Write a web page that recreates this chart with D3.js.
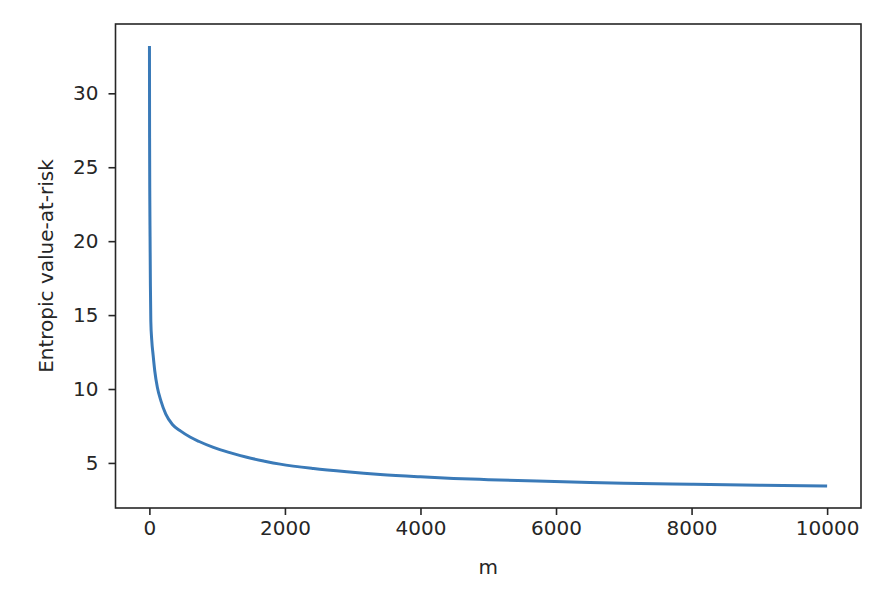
<!DOCTYPE html>
<html>
<head>
<meta charset="utf-8">
<script src="https://cdn.jsdelivr.net/npm/d3@7"></script>
<style>
  body { margin: 0; background: #fff; }
  .tick text { font-family: "DejaVu Sans", sans-serif; font-size: 20px; fill: #262626; }
  .tick line { stroke: #262626; stroke-width: 1.6; }
  .line { fill: none; stroke: #3a7ab8; stroke-width: 3; stroke-linejoin: round; }
</style>
</head>
<body>
<script>
// values
var mValues = [1, 3, 6, 10, 15, 21, 35, 55, 80, 118, 170, 242, 340, 463, 600, 734, 945, 1200, 1438, 1700, 1929, 2421, 2913, 3405, 4000, 4487, 5000, 5718, 6500, 7000, 8000, 9000, 10000];
var evarValues = [33.2, 27.0, 23.0, 20.3, 17.0, 14.6, 13.3, 12.3, 11.2, 10.1, 9.2, 8.3, 7.6, 7.15, 6.75, 6.45, 6.05, 5.68, 5.38, 5.12, 4.92, 4.62, 4.40, 4.22, 4.06, 3.95, 3.87, 3.77, 3.68, 3.63, 3.56, 3.495, 3.44];
var xTicks = [0, 2000, 4000, 6000, 8000, 10000];
var yTicks = [5, 10, 15, 20, 25, 30];

function draw() {
  var data = mValues.map(function(m, i) { return {m: m, v: evarValues[i]}; });

  // plot area (note: "top" is taken by window.top, so use plot*)
  var plotLeft = 115.5, plotRight = 861, plotTop = 24, plotBottom = 508;

  var svg = d3.select("body").append("svg")
      .attr("width", 892)
      .attr("height", 590);

  // 5% margins like matplotlib
  var yr = d3.extent(evarValues);
  var yPad = (yr[1] - yr[0]) * 0.05;
  var x = d3.scaleLinear().domain([-500, 10500]).range([plotLeft, plotRight]);
  var y = d3.scaleLinear().domain([yr[0] - yPad, yr[1] + yPad]).range([plotBottom, plotTop]);

  var valueline = d3.line()
      .x(function(d) { return x(d.m); })
      .y(function(d) { return y(d.v); })
      .curve(d3.curveMonotoneX);

  svg.append("path")
      .datum(data)
      .attr("class", "line")
      .attr("d", valueline);

  // axes
  var gx = svg.append("g")
      .attr("transform", "translate(0," + plotBottom + ")")
      .call(d3.axisBottom(x).tickValues(xTicks).tickSize(7).tickPadding(6).tickFormat(d3.format("d")));
  gx.select(".domain").remove();

  var gy = svg.append("g")
      .attr("transform", "translate(" + plotLeft + ",0)")
      .call(d3.axisLeft(y).tickValues(yTicks).tickSize(7).tickPadding(10).tickFormat(d3.format("d")));
  gy.select(".domain").remove();

  // frame
  svg.append("rect")
      .attr("x", plotLeft)
      .attr("y", plotTop)
      .attr("width", plotRight - plotLeft)
      .attr("height", plotBottom - plotTop)
      .attr("fill", "none")
      .attr("stroke", "#262626")
      .attr("stroke-width", 1.6);

  // axis labels
  svg.append("text")
      .attr("x", (plotLeft + plotRight) / 2)
      .attr("y", 574)
      .attr("text-anchor", "middle")
      .style("font-family", "DejaVu Sans, sans-serif")
      .style("font-size", "20px")
      .style("fill", "#262626")
      .text("m");

  svg.append("text")
      .attr("transform", "translate(53," + (plotTop + plotBottom) / 2 + ") rotate(-90)")
      .attr("text-anchor", "middle")
      .style("font-family", "DejaVu Sans, sans-serif")
      .style("font-size", "20px")
      .style("fill", "#262626")
      .text("Entropic value-at-risk");
}

draw();
</script>
</body>
</html>
